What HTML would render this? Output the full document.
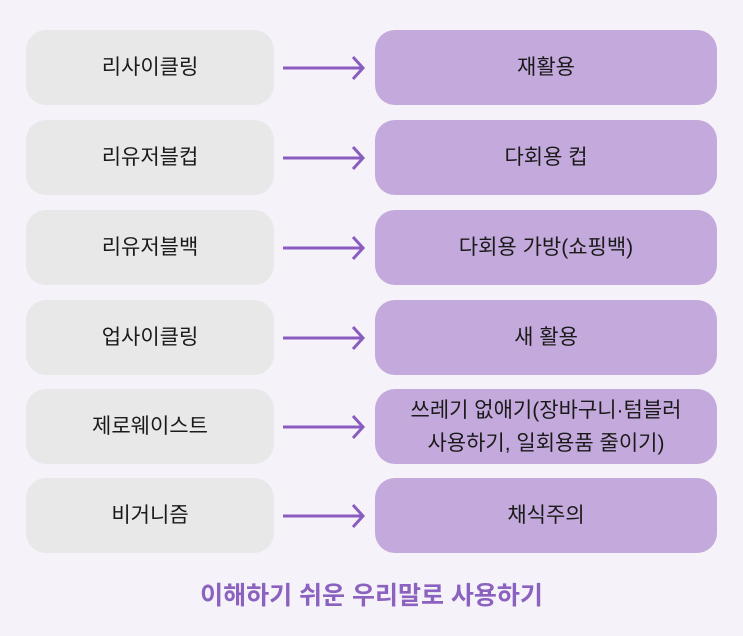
<!DOCTYPE html>
<html><head><meta charset="utf-8"><style>
body{margin:0;width:743px;height:636px;background:#f5f2f9;position:relative;overflow:hidden;font-family:"Liberation Sans","Noto Sans CJK KR",sans-serif;}
.b{position:absolute;height:75px;border-radius:20px;display:flex;align-items:center;justify-content:center;text-align:center;font-size:21px;color:#1a1a1a;font-weight:400;line-height:33px;}
.l{left:26px;width:248px;background:#e8e8e8;}
.r{left:375px;width:342px;background:#c4aadc;}
svg{position:absolute;left:0;top:0;}
.t{position:absolute;left:0;width:743px;top:576px;text-align:center;font-size:25px;font-weight:700;color:#8b62bf;}
</style></head><body>
<div class="b l" style="top:30px">리사이클링</div><div class="b r" style="top:30px">재활용</div>
<div class="b l" style="top:120px">리유저블컵</div><div class="b r" style="top:120px">다회용 컵</div>
<div class="b l" style="top:210px">리유저블백</div><div class="b r" style="top:210px">다회용 가방(쇼핑백)</div>
<div class="b l" style="top:300px">업사이클링</div><div class="b r" style="top:300px">새 활용</div>
<div class="b l" style="top:389px">제로웨이스트</div><div class="b r" style="top:389px">쓰레기 없애기(장바구니·텀블러<br>사용하기, 일회용품 줄이기)</div>
<div class="b l" style="top:478px">비거니즘</div><div class="b r" style="top:478px">채식주의</div>
<svg width="743" height="636" fill="none" stroke="#8a5cc0" stroke-width="3">
<g id="a"><path d="M283 68H363M353 57L363 68L353 79"/></g>
<use href="#a" y="90"/><use href="#a" y="180"/><use href="#a" y="270"/><use href="#a" y="359"/><use href="#a" y="448"/>
</svg>
<div class="t">이해하기 쉬운 우리말로 사용하기</div>
</body></html>
